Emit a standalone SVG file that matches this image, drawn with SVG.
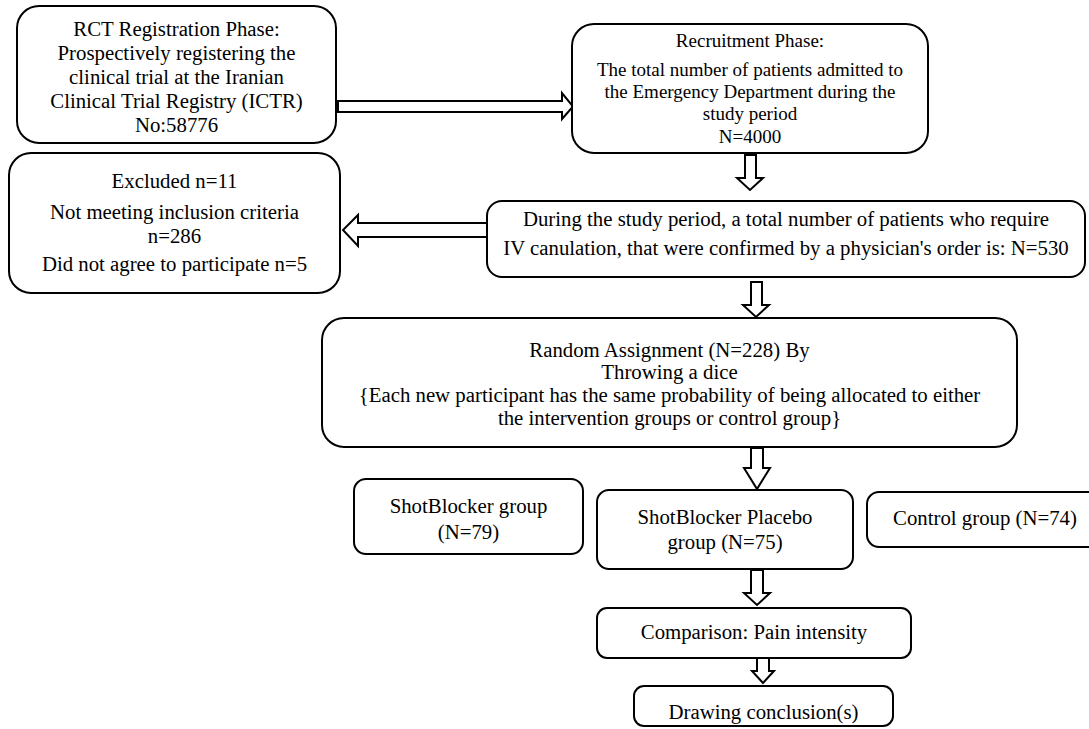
<svg xmlns="http://www.w3.org/2000/svg" width="1089" height="729" viewBox="0 0 1089 729">
<style>
.box{fill:#fff;stroke:#000;stroke-width:2}
.arr{fill:#fff;stroke:#000;stroke-width:2;stroke-linejoin:miter}
text{font-family:"Liberation Serif","Times New Roman",serif;font-size:20.8px;fill:#000;text-anchor:middle}
.s19{font-size:19px}
</style>
<rect width="1089" height="729" fill="#fff"/>
<g id="connectors">
<path class="arr" d="M338,101 H562 V93 L573,106.5 L562,119 V112 H338 Z"/>
<path class="arr" d="M487,223 H358 V215 L343,230 L358,246 V237 H487 Z"/>
<path class="arr" d="M745,155 V178 H737 L750,190 L763,178 H756 V155 Z"/>
<path class="arr" d="M751,282 V305 H743 L756,317 L769,305 H762 V282 Z"/>
<path class="arr" d="M751,448 V468 H744 L757,489 L770,468 H763 V448 Z"/>
<path class="arr" d="M751,570 V593 H744 L757,605 L770,593 H763 V570 Z"/>
<path class="arr" d="M757,658 V671 H752 L763,683 L774,671 H769 V658 Z"/>
</g>
<g id="registration">
<rect class="box" x="17" y="6" width="319" height="137" rx="22"/>
<text x="176.5" y="36">RCT Registration Phase:</text>
<text x="176.5" y="60">Prospectively registering the</text>
<text x="176.5" y="84">clinical trial at the Iranian</text>
<text x="176.5" y="108">Clinical Trial Registry (ICTR)</text>
<text x="176.5" y="132">No:58776</text>
</g>
<g id="recruitment">
<rect class="box" x="572" y="24" width="356" height="129" rx="22"/>
<text class="s19" x="750" y="47">Recruitment Phase:</text>
<text class="s19" x="750" y="76">The total number of patients admitted to</text>
<text class="s19" x="750" y="98">the Emergency Department during the</text>
<text class="s19" x="750" y="120">study period</text>
<text class="s19" x="750" y="143">N=4000</text>
</g>
<g id="excluded">
<rect class="box" x="9" y="153" width="331" height="140" rx="22"/>
<text x="174.5" y="188">Excluded n=11</text>
<text x="174.5" y="219">Not meeting inclusion criteria</text>
<text x="174.5" y="243">n=286</text>
<text x="174.5" y="271">Did not agree to participate n=5</text>
</g>
<g id="eligible">
<rect class="box" x="487" y="201" width="598" height="76" rx="15"/>
<text x="786" y="226">During the study period, a total number of patients who require</text>
<text x="786" y="255">IV canulation, that were confirmed by a physician's order is: N=530</text>
</g>
<g id="random">
<rect class="box" x="322" y="318" width="695" height="129" rx="22"/>
<text x="669.5" y="357">Random Assignment (N=228) By</text>
<text x="669.5" y="379">Throwing a dice</text>
<text x="669.5" y="402">{Each new participant has the same probability of being allocated to either</text>
<text x="669.5" y="425">the intervention groups or control group}</text>
</g>
<g id="shotblocker">
<rect class="box" x="354" y="479" width="229" height="75" rx="12"/>
<text x="468.5" y="513">ShotBlocker group</text>
<text x="468.5" y="539">(N=79)</text>
</g>
<g id="placebo">
<rect class="box" x="597" y="490" width="256" height="79" rx="12"/>
<text x="725" y="524">ShotBlocker Placebo</text>
<text x="725" y="549">group (N=75)</text>
</g>
<g id="control">
<rect class="box" x="867" y="492" width="236" height="55" rx="12"/>
<text x="985" y="525">Control group (N=74)</text>
</g>
<g id="comparison">
<rect class="box" x="597" y="608" width="314" height="50" rx="10"/>
<text x="754" y="639">Comparison: Pain intensity</text>
</g>
<g id="conclusion">
<rect class="box" x="634" y="686" width="259" height="40" rx="10"/>
<text x="763.5" y="719">Drawing conclusion(s)</text>
</g>
</svg>
